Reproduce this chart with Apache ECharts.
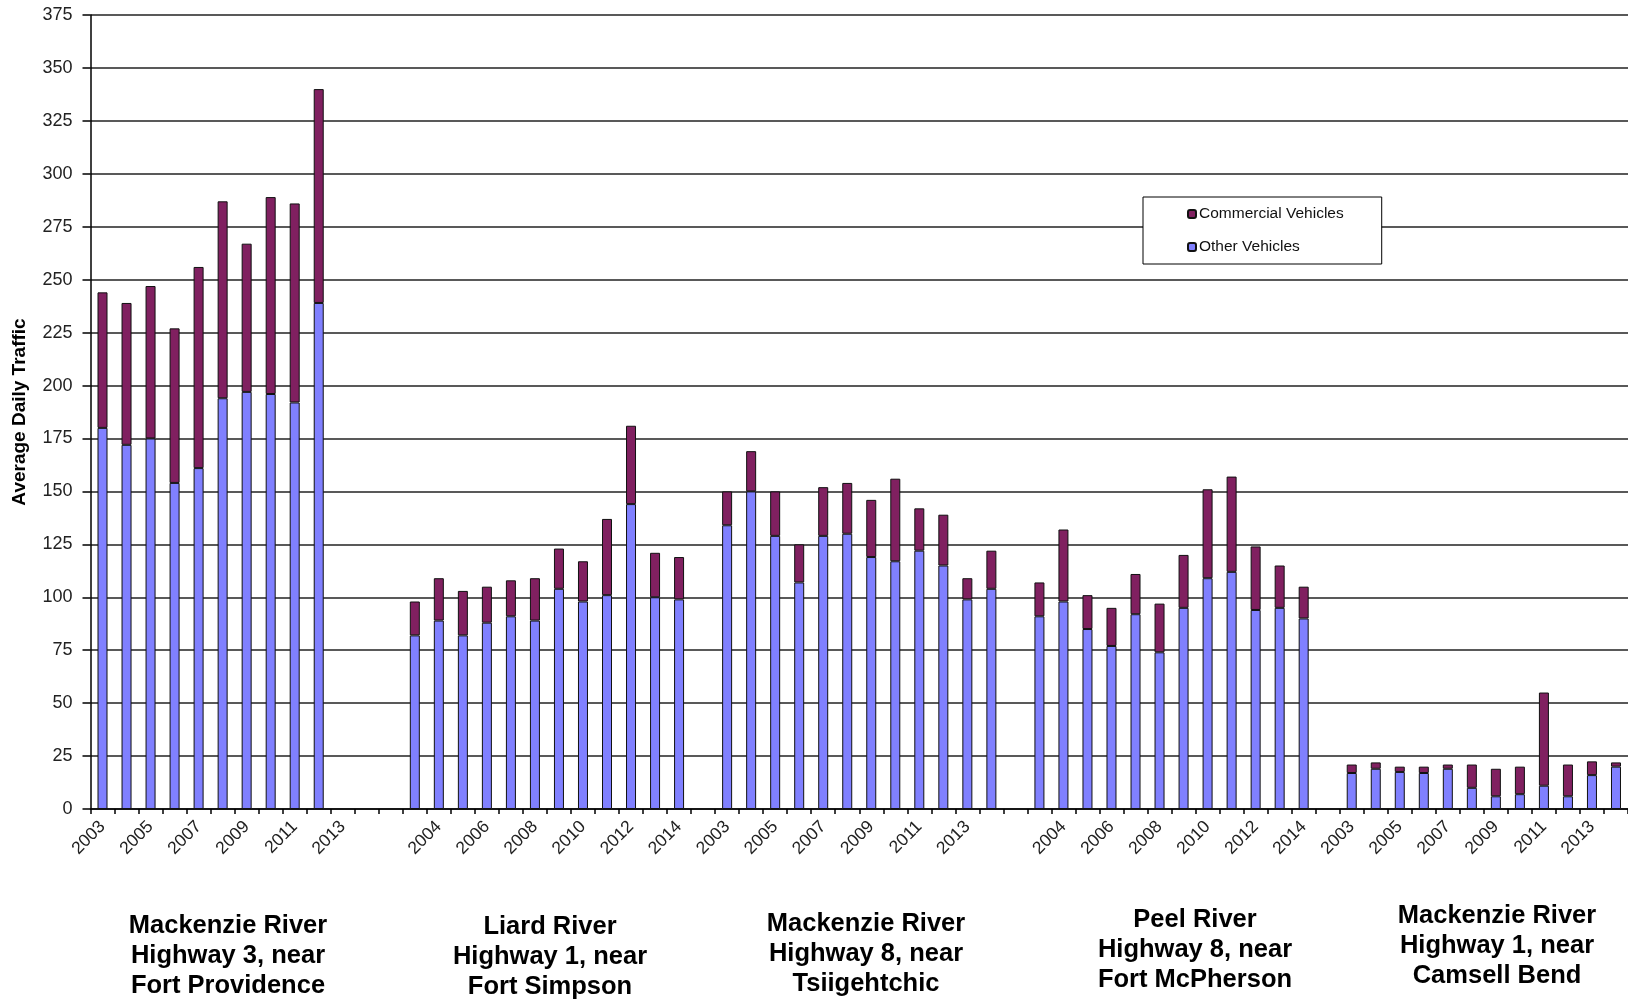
<!DOCTYPE html>
<html>
<head>
<meta charset="utf-8">
<script src="https://cdn.jsdelivr.net/npm/echarts@6/dist/echarts.min.js"></script>
<style>
html,body{margin:0;padding:0;background:#fff;}
#chart{width:1628px;height:1000px;}
</style>
</head>
<body>
<div id="chart"></div>
<script>
// ---- Data ----
const seriesNames = ['Commercial Vehicles', 'Other Vehicles'];

// Mackenzie River, Highway 3, near Fort Providence (2003–2013; 2013 has no bar)
const yearsProvidence = ['2003','2004','2005','2006','2007','2008','2009','2010','2011','2012','2013'];
const otherProvidence = [180, 172, 175, 154, 161, 194, 197, 196, 192, 239, null];
const commProvidence  = [ 64,  67,  72,  73,  95,  93,  70,  93,  94, 101, null];

// Liard River, Highway 1, near Fort Simpson (2003–2014)
const yearsSimpson = ['2003','2004','2005','2006','2007','2008','2009','2010','2011','2012','2013','2014'];
const otherSimpson = [82, 89, 82, 88, 91, 89, 104, 98, 101, 144, 100, 99];
const commSimpson  = [16, 20, 21, 17, 17, 20,  19, 19,  36,  37,  21, 20];

// Mackenzie River, Highway 8, near Tsiigehtchic (2003–2014)
const yearsTsiigehtchic = ['2003','2004','2005','2006','2007','2008','2009','2010','2011','2012','2013','2014'];
const otherTsiigehtchic = [134, 150, 129, 107, 129, 130, 119, 117, 122, 115, 99, 104];
const commTsiigehtchic  = [ 16,  19,  21,  18,  23,  24,  27,  39,  20,  24, 10,  18];

// Peel River, Highway 8, near Fort McPherson (2003–2014)
const yearsMcPherson = ['2003','2004','2005','2006','2007','2008','2009','2010','2011','2012','2013','2014'];
const otherMcPherson = [91, 98, 85, 77, 92, 74, 95, 109, 112, 94, 95, 90];
const commMcPherson  = [16, 34, 16, 18, 19, 23, 25,  42,  45, 30, 20, 15];

// Mackenzie River, Highway 1, near Camsell Bend (2003–2014)
const yearsCamsell = ['2003','2004','2005','2006','2007','2008','2009','2010','2011','2012','2013','2014'];
const otherCamsell = [17, 19, 17.5, 17, 19, 10,  6,  7, 11,  6, 16, 20];
const commCamsell  = [ 4,  3,  2.5,  3,  2, 11, 13, 13, 44, 15, 6.5, 2];

const groupTitles = [
  'Mackenzie River\nHighway 3, near\nFort Providence',
  'Liard River\nHighway 1, near\nFort Simpson',
  'Mackenzie River\nHighway 8, near\nTsiigehtchic',
  'Peel River\nHighway 8, near\nFort McPherson',
  'Mackenzie River\nHighway 1, near\nCamsell Bend'
];

// ---- Build the category axis with blank spacer categories between sites ----
const groups = [
  {years: yearsProvidence,   other: otherProvidence,   comm: commProvidence,   gapAfter: 2},
  {years: yearsSimpson,      other: otherSimpson,      comm: commSimpson,      gapAfter: 1},
  {years: yearsTsiigehtchic, other: otherTsiigehtchic, comm: commTsiigehtchic, gapAfter: 1},
  {years: yearsMcPherson,    other: otherMcPherson,    comm: commMcPherson,    gapAfter: 1},
  {years: yearsCamsell,      other: otherCamsell,      comm: commCamsell,      gapAfter: 0}
];
const categories = [], otherData = [], commData = [];
groups.forEach(g => {
  g.years.forEach((y, i) => {
    categories.push(y);
    otherData.push(g.other[i] == null ? '-' : g.other[i]);
    commData.push(g.comm[i] == null ? '-' : g.comm[i]);
  });
  for (let k = 0; k < g.gapAfter; k++) {
    categories.push(' ');
    otherData.push('-');
    commData.push('-');
  }
});

const FONT = '"Liberation Sans", Arial, Helvetica, sans-serif';

const chart = echarts.init(document.getElementById('chart'), null, {renderer: 'canvas'});

const titleCenters = [228, 550, 866, 1195, 1497];
const titleTops = [911, 912, 909, 905, 901];

const option = {
  backgroundColor: '#ffffff',
  animation: false,
  grid: {left: 90.5, top: 15, width: 1543, bottom: 191, containLabel: false},
  legend: {
    data: seriesNames,
    orient: 'vertical',
    left: 1143,
    top: 197,
    padding: [9, 38, 9, 44],
    itemWidth: 8,
    itemHeight: 8,
    itemGap: 17,
    backgroundColor: '#ffffff',
    borderColor: '#000000',
    borderWidth: 1,
    textStyle: {fontFamily: FONT, fontSize: 15.5, color: '#111', padding: [0, 0, 0, -2]}
  },
  xAxis: {
    type: 'category',
    data: categories,
    boundaryGap: true,
    axisLine: {show: true, lineStyle: {color: '#000', width: 1.5}},
    axisTick: {show: true, interval: 0, length: 5, lineStyle: {color: '#000', width: 1.5}},
    axisLabel: {
      interval: 1,
      rotate: 45,
      margin: 15,
      fontFamily: FONT,
      fontSize: 17.5,
      color: '#222'
    },
    splitLine: {show: false}
  },
  yAxis: {
    type: 'value',
    min: 0,
    max: 375,
    interval: 25,
    name: 'Average Daily Traffic',
    nameLocation: 'middle',
    nameRotate: 90,
    nameGap: 61,
    nameTextStyle: {fontFamily: FONT, fontSize: 19, fontWeight: 'bold', color: '#000'},
    axisLine: {show: true, lineStyle: {color: '#000', width: 1.5}},
    axisTick: {show: true, length: 8, lineStyle: {color: '#000', width: 1.5}},
    axisLabel: {margin: 18, fontFamily: FONT, fontSize: 18, color: '#222'},
    splitLine: {show: true, lineStyle: {color: '#222', width: 1.5}}
  },
  series: [
    {
      name: 'Other Vehicles',
      type: 'bar',
      stack: 'traffic',
      data: otherData,
      barWidth: 10,
      itemStyle: {color: '#8080FF', borderColor: '#111', borderWidth: 1}
    },
    {
      name: 'Commercial Vehicles',
      type: 'bar',
      stack: 'traffic',
      data: commData,
      barWidth: 10,
      itemStyle: {color: '#802060', borderColor: '#111', borderWidth: 1}
    }
  ],
  graphic: groupTitles.map((t, i) => ({
    type: 'text',
    x: titleCenters[i],
    y: titleTops[i],
    style: {
      text: t,
      align: 'center',
      verticalAlign: 'top',
      fontFamily: FONT,
      fontSize: 25.5,
      fontWeight: 'bold',
      lineHeight: 30,
      fill: '#000'
    }
  }))
};

chart.setOption(option);
</script>
</body>
</html>
